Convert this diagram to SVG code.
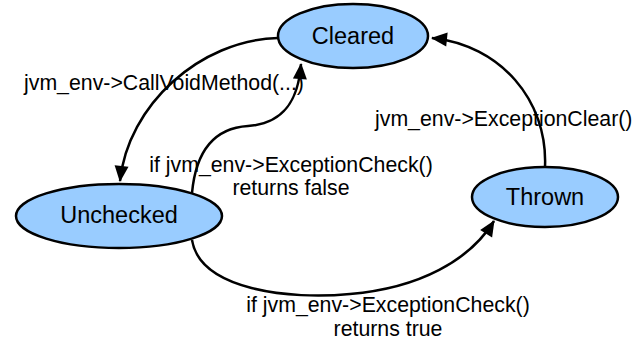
<svg xmlns="http://www.w3.org/2000/svg" width="642" height="341" viewBox="0 0 642 341">
<style>
.node ellipse{fill:#99CCFF;stroke:#000;stroke-width:2.5}
.node text{font-family:"Liberation Sans",Arial,sans-serif;font-size:23.5px;text-anchor:middle;fill:#000}
.edge{fill:none;stroke:#000;stroke-width:2.5}
.lbl{font-family:"Liberation Sans",Arial,sans-serif;font-size:21.3px;fill:#000}
</style>
<defs>
<marker id="arr" markerUnits="userSpaceOnUse" markerWidth="17" markerHeight="14" refX="15" refY="7" orient="auto" overflow="visible">
<path d="M0,0 L16,7 L0,14 z" fill="#000"/>
</marker>
</defs>
<g id="connectors">
<path class="edge" d="M278,38 C200,40 128,105 120,181" marker-end="url(#arr)"/>
<path class="edge" d="M192,193 C196,150 215,128 248,126 C280,124 298,105 301,64" marker-end="url(#arr)"/>
<path class="edge" d="M192,240 C200,290 290,300 350,294 C420,288 470,260 494,221" marker-end="url(#arr)"/>
<path class="edge" d="M545,167 C548,100 500,45 432,38" marker-end="url(#arr)"/>
</g>
<g id="labels">
<text class="lbl" x="24" y="90">jvm_env-&gt;CallVoidMethod(...)</text>
<text class="lbl" x="375" y="126">jvm_env-&gt;ExceptionClear()</text>
<text class="lbl" x="291" y="172" text-anchor="middle">if jvm_env-&gt;ExceptionCheck()</text>
<text class="lbl" x="291" y="195" text-anchor="middle">returns false</text>
<text class="lbl" x="388" y="312" text-anchor="middle">if jvm_env-&gt;ExceptionCheck()</text>
<text class="lbl" x="388" y="336" text-anchor="middle">returns true</text>
</g>
<g id="cleared" class="node">
<ellipse cx="353" cy="36" rx="75" ry="32"/>
<text x="353" y="44">Cleared</text>
</g>
<g id="unchecked" class="node">
<ellipse cx="119" cy="216" rx="103" ry="32"/>
<text x="119" y="223">Unchecked</text>
</g>
<g id="thrown" class="node">
<ellipse cx="545" cy="197" rx="73" ry="30"/>
<text x="545" y="205">Thrown</text>
</g>
</svg>
